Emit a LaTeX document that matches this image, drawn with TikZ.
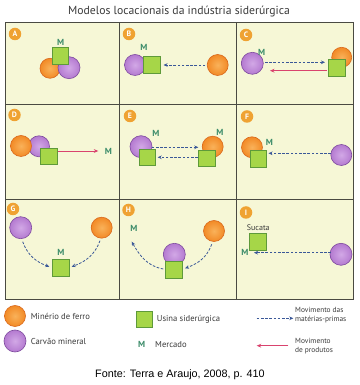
\documentclass[tikz,border=0pt]{standalone}
\usepackage{fontspec}
\setmainfont{PT Sans}
\newfontfamily\footfont{Liberation Sans}
\usetikzlibrary{arrows.meta}
\definecolor{panelbg}{HTML}{F6F7D6}
\definecolor{gridc}{HTML}{4A4A42}
\definecolor{orfill}{HTML}{F28A26}
\definecolor{orin}{HTML}{F9B25A}
\definecolor{ordraw}{HTML}{D9681C}
\definecolor{pufill}{HTML}{B47AD0}
\definecolor{puin}{HTML}{D2A8E6}
\definecolor{pudraw}{HTML}{7E4A9E}
\definecolor{sqfill}{HTML}{A6D648}
\definecolor{sqdraw}{HTML}{5E9A3A}
\definecolor{mgreen}{HTML}{3C8C6A}
\definecolor{blueflow}{HTML}{3A5898}
\definecolor{redflow}{HTML}{D9436E}
\definecolor{lblc}{HTML}{EFA232}
\definecolor{txtc}{HTML}{3A3A3A}
\tikzset{
  ore/.style={circle, inner sep=0pt, minimum size=21pt, draw=ordraw, line width=0.6pt, inner color=orin, outer color=orfill},
  coal/.style={circle, inner sep=0pt, minimum size=22pt, draw=pudraw, line width=0.6pt, inner color=puin, outer color=pufill},
  mill/.style={rectangle, inner sep=0pt, minimum size=16.5pt, draw=sqdraw, line width=0.6pt, fill=sqfill},
  mlab/.style={font=\bfseries\fontsize{8.8}{9.5}\selectfont, text=mgreen, inner sep=0pt},
  plab/.style={circle, fill=lblc, inner sep=0pt, minimum size=12.5pt, text=white, font=\bfseries\fontsize{7.8}{8}\selectfont},
  raw/.style={draw=blueflow, line width=0.8pt, dash pattern=on 2.6pt off 1.6pt, -{Stealth[length=4pt,width=3.6pt]}},
  prod/.style={draw=redflow, line width=0.8pt, -{Stealth[length=4.5pt,width=3.8pt]}},
  legtxt/.style={font=\fontsize{8.6}{9.6}\selectfont, text=txtc, anchor=west, inner sep=0pt, align=left},
  legtxtr/.style={font=\fontsize{7.4}{8.6}\selectfont, text=txtc, anchor=west, inner sep=0pt, align=left},
}
\begin{document}
\begin{tikzpicture}[x=1pt,y=1pt]
\useasboundingbox (0,0) rectangle (359,385);
\fill[white] (0,0) rectangle (359,385);
% panels
\fill[panelbg] (5,86) rectangle (353,363);
\draw[gridc, line width=0.7pt] (5,86) rectangle (353,363);
\draw[gridc, line width=0.7pt] (119,86) -- (119,363) (236,86) -- (236,363)
  (5,281) -- (353,281) (5,186) -- (353,186);
% title
\node[font=\fontsize{11.7}{13}\selectfont, text=txtc] (title) at (179,373) {Modelos locacionais da indústria siderúrgica};
% panel labels
\node[plab] (lA) at (15,351) {A};
\node[plab] (lB) at (129,351) {B};
\node[plab] (lC) at (246,350) {C};
\node[plab] (lD) at (14.5,270) {D};
\node[plab] (lE) at (130,269) {E};
\node[plab] (lF) at (247,268.5) {F};
\node[plab] (lG) at (13,176) {G};
\node[plab] (lH) at (128.5,175) {H};
\node[plab] (lI) at (246,172.5) {I};
% A
\node[ore, minimum size=20pt] (a1) at (50,316.7) {};
\node[coal] (a2) at (69,317.3) {};
\node[mill] (a3) at (60.3,329) {};
\node[mlab] (am) at (60.7,342.7) {M};
% B
\node[coal, minimum size=21pt] (b1) at (135,320) {};
\node[mill] (b2) at (152,320) {};
\node[mlab] (bm) at (144,337.7) {M};
\node[ore] (b3) at (217.7,320) {};
\draw[raw] ([xshift=-1.5pt]b3.west) -- ([xshift=3pt]b2.east);
% C
\node[coal] (c1) at (252.3,321.7) {};
\node[mlab] (cm) at (261.7,332.7) {M};
\node[ore, minimum size=20pt] (c2) at (341.7,327.7) {};
\node[mill] (c3) at (337,317) {};
\coordinate (cb1) at (265,322.7);
\coordinate (cb2) at (325,322.7);
\coordinate (cr1) at (326.7,314.3);
\coordinate (cr2) at (270,314.3);
\draw[raw] (cb1) -- (cb2);
\draw[prod] (cr1) -- (cr2);
% D
\node[coal, minimum size=21pt] (d2) at (39,238.7) {};
\node[ore] (d1) at (21,239) {};
\node[mill] (d3) at (49,228.7) {};
\node[mlab] (dm) at (108.3,234) {M};
\coordinate (dr1) at (58.3,234);
\coordinate (dr2) at (98.3,234);
\draw[prod] (dr1) -- (dr2);
% E
\node[coal] (e1) at (141,238.3) {};
\node[mill] (e2) at (147.3,227.5) {};
\node[mlab] (em1) at (156,251.7) {M};
\node[ore] (e3) at (212.7,238.3) {};
\node[mill] (e4) at (206.7,226.7) {};
\node[mlab] (em2) at (220,252.7) {M};
\coordinate (ea1) at (151.7,237.7);
\coordinate (ea2) at (198.3,237.7);
\coordinate (eb1) at (197.7,227.7);
\coordinate (eb2) at (157.7,227.7);
\draw[raw] (ea1) -- (ea2);
\draw[raw] (eb1) -- (eb2);
% F
\node[ore] (f1) at (252,237.7) {};
\node[mill] (f2) at (258.3,226.3) {};
\node[mlab] (fm) at (269.3,242.3) {M};
\node[coal, minimum size=21pt] (f3) at (341.3,230) {};
\coordinate (fa1) at (331,231.7);
\coordinate (fa2) at (268.5,231.7);
\draw[raw] (fa1) -- (fa2);
% G
\node[coal] (g1) at (20.7,157.3) {};
\node[ore] (g2) at (101.7,157.3) {};
\node[mill] (g3) at (61,117.2) {};
\node[mlab] (gm) at (61,132.3) {M};
\coordinate (ga1) at (22.7,143.3);
\coordinate (ga2) at (49.3,118.3);
\coordinate (gb1) at (100,144.3);
\coordinate (gb2) at (71.7,118.3);
\draw[raw] (ga1) to[out=-70,in=160] (ga2);
\draw[raw] (gb1) to[out=-110,in=20] (gb2);
% H
\node[mlab] (hm) at (134,156.7) {M};
\node[ore] (h1) at (214,154) {};
\node[coal] (h2) at (174.3,130.7) {};
\node[mill, minimum size=17.5pt] (h3) at (174,115) {};
\coordinate (ha1) at (163.3,116);
\coordinate (ha2) at (131.7,143.3);
\coordinate (hb1) at (211.7,140.7);
\coordinate (hb2) at (185,116.7);
\draw[raw] (ha1) to[out=170,in=-60] (ha2);
\draw[raw] (hb1) to[out=-110,in=20] (hb2);
% I
\node[font=\fontsize{8}{9}\selectfont, text=txtc, inner sep=0pt] (is) at (258.3,157.7) {Sucata};
\node[mill] (i1) at (258,143.3) {};
\node[mlab] (im) at (245,132.3) {M};
\node[coal] (i2) at (341,130.7) {};
\coordinate (ia1) at (331,132.3);
\coordinate (ia2) at (254,132.3);
\draw[raw] (ia1) -- (ia2);
% legend
\node[ore] (lo) at (15,69) {};
\node[legtxt] (lot) at (30.7,69) {Minério de ferro};
\node[coal] (lc) at (15,44) {};
\node[legtxt] (lct) at (30.7,44) {Carvão mineral};
\node[mill, minimum size=16pt] (lu) at (144.7,65.5) {};
\node[legtxt] (lut) at (156.7,65.7) {Usina siderúrgica};
\node[mlab] (lm) at (141.7,40.7) {M};
\node[legtxt] (lmt) at (155,40.7) {Mercado};
\coordinate (lr1) at (256.7,66.7);
\coordinate (lr2) at (293.3,66.7);
\draw[raw] (lr1) -- (lr2);
\node[legtxtr] (lrt) at (295,70) {Movimento das\\matérias-primas};
\coordinate (lp1) at (288.3,39.3);
\coordinate (lp2) at (256.7,39.3);
\draw[prod] (lp1) -- (lp2);
\node[legtxtr] (lpt) at (295,38.7) {Movimento\\de produtos};
% footer
\node[font=\footfont\fontsize{10.8}{12}\selectfont, text=black] (foot) at (180,10) {Fonte: Terra e Araujo, 2008, p. 410};
\end{tikzpicture}
\end{document}
